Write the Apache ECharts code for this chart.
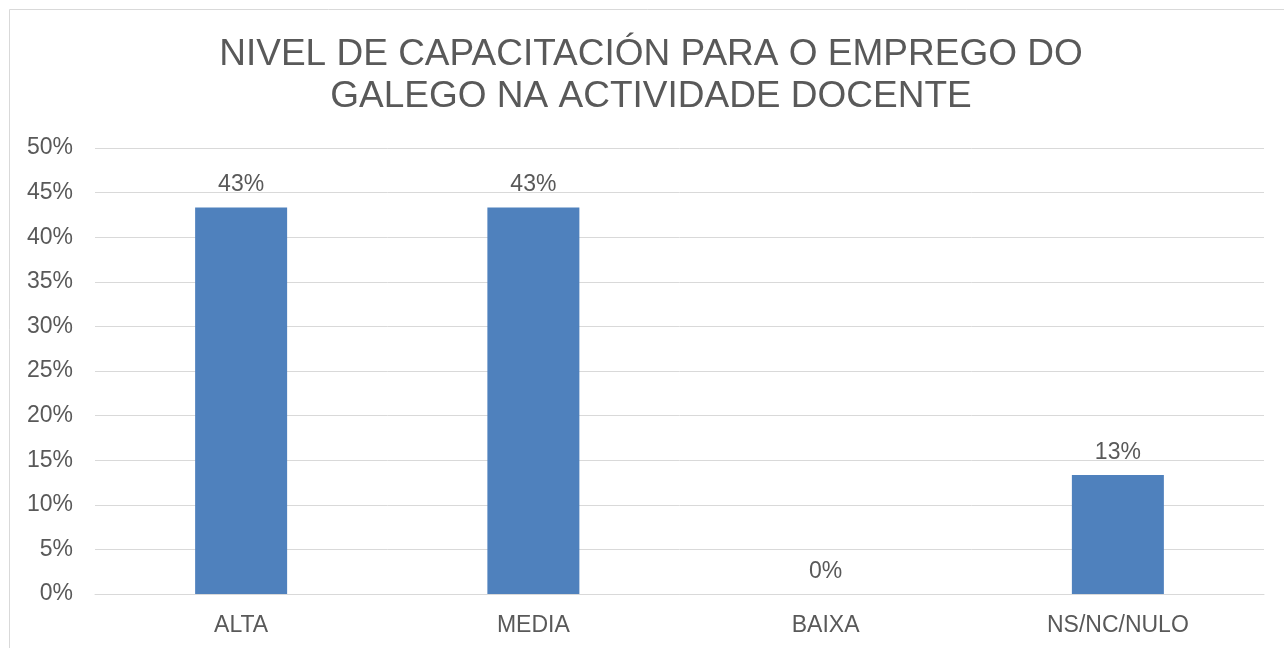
<!DOCTYPE html>
<html>
<head>
<meta charset="utf-8">
<script src="https://cdn.jsdelivr.net/npm/echarts@6/dist/echarts.min.js"></script>
<style>
  html, body { margin: 0; padding: 0; background: #fff; }
  #chart { width: 1284px; height: 648px; }
</style>
</head>
<body>
<div id="chart"></div>
<script>
const categorias = ['ALTA', 'MEDIA', 'BAIXA', 'NS/NC/NULO']
const porcentaxes = [43.33, 43.33, 0, 13.33]
const titulo = 'NIVEL DE CAPACITACIÓN PARA O EMPREGO DO\nGALEGO NA ACTIVIDADE DOCENTE'

const grisTexto = '#595959'
const fonte = '"Liberation Sans", Arial, sans-serif'

const chart = echarts.init(document.getElementById('chart'))
const option = {
  backgroundColor: '#fff',
  animation: false,
  graphic: [
    {
      type: 'rect',
      shape: { x: 9.5, y: 9.5, width: 1290, height: 660 },
      style: { fill: 'none', stroke: '#d9d9d9', lineWidth: 1 },
      silent: true
    },
    // título (centrado no recadro do gráfico)
    {
      type: 'text',
      silent: true,
      style: {
        text: titulo,
        x: 651,
        y: 34,
        align: 'center',
        verticalAlign: 'top',
        fontFamily: fonte,
        fontSize: 37,
        lineHeight: 42,
        fill: grisTexto
      }
    }
  ],
  grid: {
    left: 95,
    right: 20,
    top: 148,
    bottom: 54
  },
  xAxis: {
    type: 'category',
    data: categorias,
    axisLine: { show: true, lineStyle: { color: '#d9d9d9' } },
    axisTick: { show: false },
    axisLabel: {
      color: grisTexto,
      fontFamily: fonte,
      fontSize: 23,
      margin: 20
    }
  },
  yAxis: {
    type: 'value',
    min: 0,
    max: 50,
    interval: 5,
    axisLine: { show: false },
    axisTick: { show: false },
    axisLabel: {
      color: grisTexto,
      fontFamily: fonte,
      fontSize: 23,
      margin: 22,
      formatter: '{value}%'
    },
    splitLine: { lineStyle: { color: '#d9d9d9', width: 1 } }
  },
  series: [
    {
      type: 'bar',
      data: porcentaxes,
      barWidth: 92,
      itemStyle: { color: '#4f81bd' },
      label: {
        show: true,
        position: 'top',
        distance: 11,
        color: grisTexto,
        fontFamily: fonte,
        fontSize: 23,
        formatter: p => Math.round(p.value) + '%'
      }
    }
  ]
}
chart.setOption(option)
</script>
</body>
</html>
